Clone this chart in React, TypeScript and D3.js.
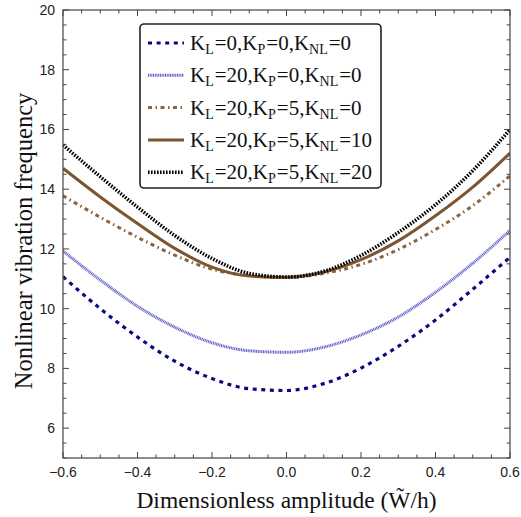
import * as d3 from "d3";

const xs = [-0.6, -0.5, -0.4, -0.3, -0.2, -0.1, 0, 0.1, 0.2, 0.3, 0.4, 0.5, 0.6];

const kl0 = [11.07, 10.0, 9.05, 8.24, 7.66, 7.32, 7.26, 7.49, 8.01, 8.74, 9.62, 10.65, 11.72];
const kl20 = [11.93, 10.96, 10.08, 9.38, 8.86, 8.59, 8.54, 8.71, 9.12, 9.72, 10.55, 11.52, 12.62];
const kp5 = [13.78, 13.06, 12.39, 11.79, 11.32, 11.11, 11.04, 11.18, 11.48, 11.98, 12.65, 13.45, 14.45];
const knl10 = [14.7, 13.74, 12.85, 12.02, 11.39, 11.09, 11.05, 11.22, 11.64, 12.27, 13.11, 14.07, 15.21];
const knl20 = [15.48, 14.42, 13.4, 12.45, 11.68, 11.18, 11.06, 11.25, 11.78, 12.55, 13.48, 14.62, 16.0];

const legendKL = ["0", "20", "20", "20", "20"];
const legendKP = ["0", "0", "5", "5", "5"];
const legendKNL = ["0", "0", "0", "10", "20"];

const xTicks = [-0.6, -0.4, -0.2, 0.0, 0.2, 0.4, 0.6];
const yTicks = [6, 8, 10, 12, 14, 16, 18, 20];

const series = [
  { values: kl0, color: "#0a0a80", width: 3.2, dash: "4,4.6" },
  { values: kl20, color: "#5a5ac8", width: 3, dash: "1,0.7" },
  { values: kp5, color: "#8a6440", width: 3, dash: "4,3.5,1.5,3.5" },
  { values: knl10, color: "#7d5530", width: 3, dash: null },
  { values: knl20, color: "#000000", width: 3.6, dash: "1.6,1.4" },
];

export default function App() {
  const W = 521;
  const H = 517;
  const m = { left: 63, right: 11, top: 10, bottom: 59 };
  const x = d3.scaleLinear().domain([-0.6, 0.6]).range([m.left, W - m.right]);
  const y = d3.scaleLinear().domain([5, 20]).range([H - m.bottom, m.top]);

  const line = d3
    .line<number>()
    .x((_, i) => x(xs[i]))
    .y((d) => y(d))
    .curve(d3.curveMonotoneX);

  const xMinor = d3.range(-0.6, 0.6001, 0.05);
  const yMinor = d3.range(5, 20.001, 0.5);
  const axisColor = "#444";
  const x0 = m.left;
  const x1 = W - m.right;
  const y0 = H - m.bottom;
  const y1 = m.top;
  const isMajorX = (v: number) => xTicks.some((t) => Math.abs(t - v) < 1e-6);
  const isMajorY = (v: number) => yTicks.some((t) => Math.abs(t - v) < 1e-6);

  const lg = { x: 140, y: 24, w: 241, h: 164, row: 32.3 };
  const serif = "Liberation Serif, Times New Roman, serif";

  return (
    <svg
      width={W}
      height={H}
      style={{ position: "absolute", left: 0, top: 0, background: "#fff" }}
    >
      <defs>
        <clipPath id="plot">
          <rect x={x0} y={y1} width={x1 - x0} height={y0 - y1} />
        </clipPath>
      </defs>

      {/* curves */}
      <g clipPath="url(#plot)">
        {series.map((s, i) => (
          <path
            key={i}
            d={line(s.values) || ""}
            fill="none"
            stroke={s.color}
            strokeWidth={s.width}
            strokeDasharray={s.dash || undefined}
          />
        ))}
      </g>

      {/* frame */}
      <rect x={x0} y={y1} width={x1 - x0} height={y0 - y1} fill="none" stroke={axisColor} strokeWidth={1.2} />

      {/* ticks */}
      {xMinor.map((v, i) => {
        const len = isMajorX(v) ? 6 : 3.5;
        return (
          <g key={"xt" + i} stroke={axisColor} strokeWidth={1}>
            <line x1={x(v)} x2={x(v)} y1={y0} y2={y0 - len} />
            <line x1={x(v)} x2={x(v)} y1={y1} y2={y1 + len} />
          </g>
        );
      })}
      {yMinor.map((v, i) => {
        const len = isMajorY(v) ? 6 : 3.5;
        return (
          <g key={"yt" + i} stroke={axisColor} strokeWidth={1}>
            <line x1={x0} x2={x0 + len} y1={y(v)} y2={y(v)} />
            <line x1={x1} x2={x1 - len} y1={y(v)} y2={y(v)} />
          </g>
        );
      })}

      {/* tick labels */}
      <g fontFamily="Liberation Sans, Arial, sans-serif" fontSize={14} fill="#222">
        {xTicks.map((t) => (
          <text key={"xl" + t} x={x(t)} y={y0 + 19} textAnchor="middle">
            {t < 0 ? "\u2212" + Math.abs(t).toFixed(1) : t.toFixed(1)}
          </text>
        ))}
        {yTicks.map((t) => (
          <text key={"yl" + t} x={x0 - 8} y={y(t) + 5} textAnchor="end">
            {t}
          </text>
        ))}
      </g>

      {/* axis titles */}
      <text x={(x0 + x1) / 2} y={508} textAnchor="middle" fontFamily={serif} fontSize={23.5} fill="#111">
        Dimensionless amplitude (W{"\u0303"}/h)
      </text>
      <text
        transform={`translate(32,241) rotate(-90)`}
        textAnchor="middle"
        fontFamily={serif}
        fontSize={24.5}
        fill="#111"
      >
        Nonlinear vibration frequency
      </text>

      {/* legend */}
      <rect x={lg.x} y={lg.y} width={lg.w} height={lg.h} rx={4} fill="#fff" stroke="#222" strokeWidth={1.6} />
      {series.map((s, i) => {
        const cy = lg.y + 19 + i * lg.row;
        return (
          <g key={"lg" + i}>
            <line
              x1={lg.x + 8}
              x2={lg.x + 44}
              y1={cy}
              y2={cy}
              stroke={s.color}
              strokeWidth={s.width}
              strokeDasharray={s.dash || undefined}
            />
            <text x={lg.x + 50} y={cy + 7} fontFamily={serif} fontSize={21} fill="#111">
              <tspan>K</tspan>
              <tspan fontSize={14} dy={4}>L</tspan>
              <tspan dy={-4} dx={1}>{"=" + legendKL[i] + ",K"}</tspan>
              <tspan fontSize={14} dy={4}>P</tspan>
              <tspan dy={-4} dx={1}>{"=" + legendKP[i] + ",K"}</tspan>
              <tspan fontSize={14} dy={4}>NL</tspan>
              <tspan dy={-4} dx={1}>{"=" + legendKNL[i]}</tspan>
            </text>
          </g>
        );
      })}
    </svg>
  );
}
